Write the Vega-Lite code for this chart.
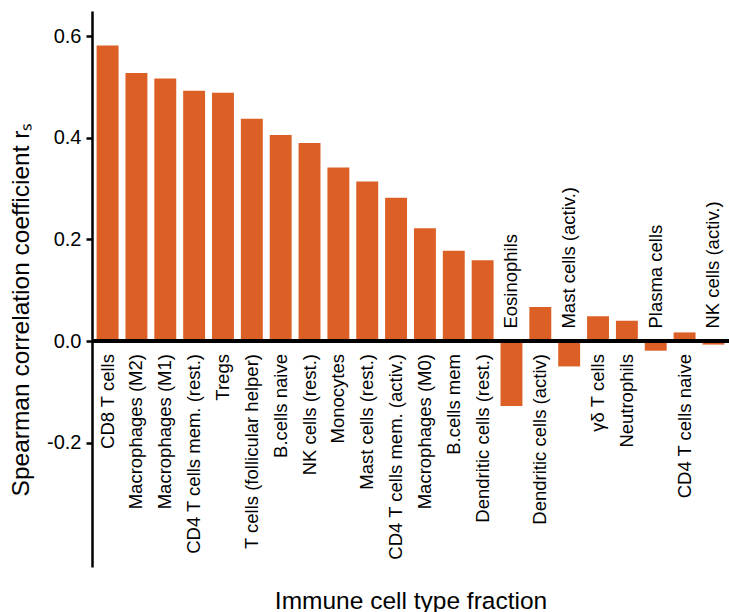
{
  "$schema": "https://vega.github.io/schema/vega-lite/v6.json",
  "width": 637,
  "height": 556,
  "autosize": {"type": "none"},
  "padding": {"left": 92, "top": 11, "right": 0, "bottom": 45},
  "background": "white",
  "config": {
    "view": {"stroke": null},
    "font": "Liberation Sans",
    "axis": {"grid": false}
  },
  "data": {
    "values": [
      {"cell": "CD8 T cells", "r": 0.582},
      {"cell": "Macrophages (M2)", "r": 0.528},
      {"cell": "Macrophages (M1)", "r": 0.517},
      {"cell": "CD4 T cells mem. (rest.)", "r": 0.493},
      {"cell": "Tregs", "r": 0.489},
      {"cell": "T cells (follicular helper)", "r": 0.438},
      {"cell": "B.cells naive", "r": 0.406},
      {"cell": "NK cells (rest.)", "r": 0.390},
      {"cell": "Monocytes", "r": 0.342},
      {"cell": "Mast cells (rest.)", "r": 0.314},
      {"cell": "CD4 T cells mem. (activ.)", "r": 0.282},
      {"cell": "Macrophages (M0)", "r": 0.222},
      {"cell": "B.cells mem", "r": 0.178},
      {"cell": "Dendritic cells (rest.)", "r": 0.159},
      {"cell": "Eosinophils", "r": -0.128},
      {"cell": "Dendritic cells (activ)", "r": 0.067},
      {"cell": "Mast cells (activ.)", "r": -0.05},
      {"cell": "γδ T cells", "r": 0.049},
      {"cell": "Neutrophils", "r": 0.040},
      {"cell": "Plasma cells", "r": -0.019},
      {"cell": "CD4 T cells naive", "r": 0.017},
      {"cell": "NK cells (activ.)", "r": -0.007}
    ]
  },
  "layer": [
    {
      "mark": {"type": "bar", "color": "#DC6026"},
      "encoding": {
        "x": {
          "field": "cell",
          "type": "nominal",
          "sort": null,
          "scale": {"paddingInner": 0.24, "paddingOuter": 0.16},
          "axis": {
            "title": "Immune cell type fraction",
            "labels": false,
            "ticks": false,
            "domain": false,
            "titleFontSize": 24.5,
            "titleFontWeight": "normal",
            "titleColor": "black",
            "titleY": 41,
            "titleBaseline": "alphabetic"
          }
        },
        "y": {
          "field": "r",
          "type": "quantitative",
          "scale": {"domain": [-0.445, 0.65], "nice": false, "zero": false},
          "axis": {
            "title": "Spearman correlation coefficient rₛ",
            "values": [-0.2, 0, 0.2, 0.4, 0.6],
            "labelExpr": "datum.value < 0 ? '-' + format(-datum.value, '.1f') : format(datum.value, '.1f')",
            "domainColor": "black",
            "domainWidth": 2.5,
            "tickColor": "black",
            "tickWidth": 2.5,
            "tickSize": 6,
            "labelFontSize": 20,
            "labelFontWeight": "normal",
            "labelColor": "black",
            "labelPadding": 5,
            "titleFontSize": 24.5,
            "titleFontWeight": "normal",
            "titleColor": "black",
            "titleAngle": 270,
            "titleX": -64,
            "titleY": 298,
            "titleBaseline": "alphabetic",
            "titleAlign": "center"
          }
        }
      }
    },
    {
      "mark": {"type": "rule", "color": "black", "strokeWidth": 2.5},
      "encoding": {
        "y": {"datum": 0, "type": "quantitative"}
      }
    },
    {
      "transform": [{"filter": "datum.r >= 0"}],
      "mark": {
        "type": "text",
        "angle": 270,
        "align": "right",
        "baseline": "middle",
        "dx": -13,
        "fontSize": 18.5,
        "color": "black"
      },
      "encoding": {
        "x": {"field": "cell", "type": "nominal", "sort": null},
        "y": {"datum": 0, "type": "quantitative"},
        "text": {"field": "cell"}
      }
    },
    {
      "transform": [{"filter": "datum.r < 0"}],
      "mark": {
        "type": "text",
        "angle": 270,
        "align": "left",
        "baseline": "middle",
        "dx": 12.5,
        "fontSize": 18.5,
        "color": "black"
      },
      "encoding": {
        "x": {"field": "cell", "type": "nominal", "sort": null},
        "y": {"datum": 0, "type": "quantitative"},
        "text": {"field": "cell"}
      }
    }
  ]
}
